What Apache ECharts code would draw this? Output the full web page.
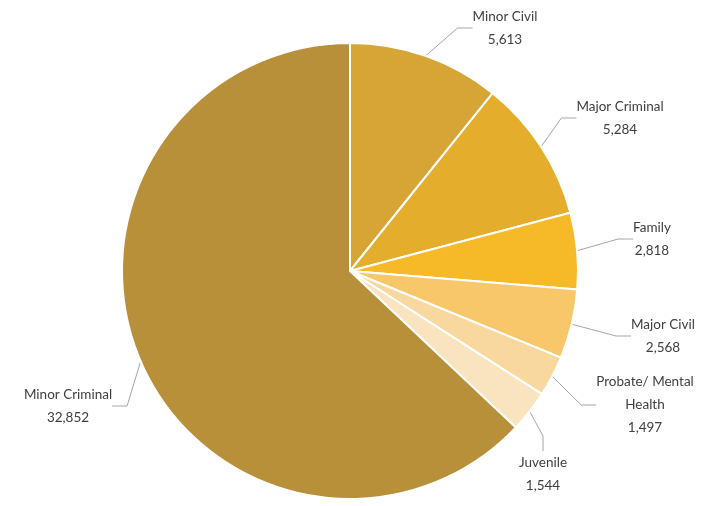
<!DOCTYPE html>
<html>
<head>
<meta charset="utf-8">
<script src="https://cdn.jsdelivr.net/npm/echarts@6/dist/echarts.min.js"></script>
<style>html,body{margin:0;padding:0;background:#fff;}#c{width:718px;height:506px;}</style>
</head>
<body>
<div id="c"></div>
<script>
var categories = ['Minor Civil', 'Major Criminal', 'Family', 'Major Civil', 'Probate/ Mental\nHealth', 'Juvenile', 'Minor Criminal'];
var values = [5613, 5284, 2818, 2568, 1497, 1544, 32852];
var colors = ['#D6A536', '#E4AE2C', '#F6B927', '#F7C76A', '#F9D8A0', '#FAE3BF', '#B8903A'];
var labelPos = [[505, 28], [620, 118], [652, 239], [663, 336], [645, 405], [543, 474], [68, 406]];

var chart = echarts.init(document.getElementById('c'));
chart.setOption({
  animation: false,
  backgroundColor: '#ffffff',
  series: [{
    type: 'pie',
    center: [350, 271],
    radius: 228,
    startAngle: 90,
    clockwise: true,
    avoidLabelOverlap: false,
    itemStyle: { borderColor: '#ffffff', borderWidth: 2 },
    label: {
      show: true,
      position: 'outside',
      color: '#404040',
      fontFamily: 'Lato, "Open Sans", sans-serif',
      fontSize: 13.5,
      lineHeight: 23,
      align: 'center',
      formatter: function (p) { return p.name + '\n' + p.value.toLocaleString('en-US'); }
    },
    labelLine: { show: true, lineStyle: { color: '#A6A6A6', width: 1 }, length: 15, length2: 15 },
    labelLayout: function (p) {
      var pos = labelPos[p.dataIndex];
      return { x: pos[0], y: pos[1], align: 'center', verticalAlign: 'middle' };
    },
    data: categories.map(function (n, i) {
      return { name: n, value: values[i], itemStyle: { color: colors[i] } };
    })
  }]
});
</script>
</body>
</html>
